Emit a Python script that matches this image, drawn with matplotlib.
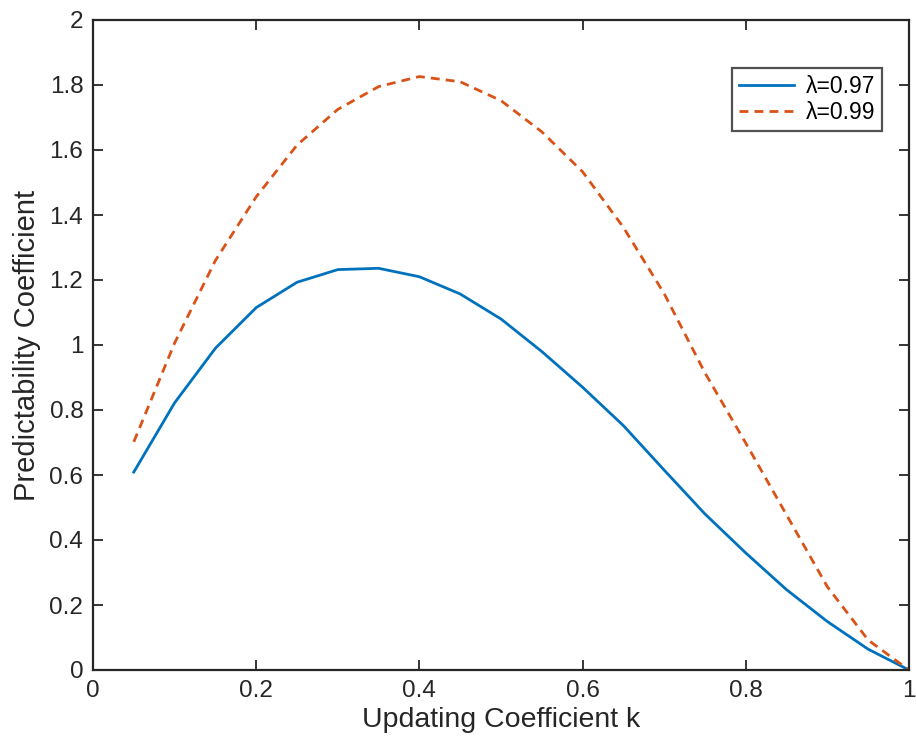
import matplotlib
matplotlib.use("Agg")
import matplotlib.pyplot as plt

k = [0.05, 0.10, 0.15, 0.20, 0.25, 0.30, 0.35, 0.40, 0.45, 0.50,
     0.55, 0.60, 0.65, 0.70, 0.75, 0.80, 0.85, 0.90, 0.95, 1.00]
pc_097 = [0.609, 0.822, 0.990, 1.115, 1.193, 1.232, 1.236, 1.210, 1.157, 1.080,
          0.980, 0.870, 0.752, 0.615, 0.480, 0.360, 0.247, 0.149, 0.064, 0.0]
pc_099 = [0.702, 1.006, 1.260, 1.456, 1.615, 1.725, 1.795, 1.826, 1.810, 1.752,
          1.656, 1.533, 1.362, 1.158, 0.914, 0.698, 0.477, 0.256, 0.092, 0.0]
labels = ["λ=0.97", "λ=0.99"]
xticks = [0, 0.2, 0.4, 0.6, 0.8, 1]
yticks = [0, 0.2, 0.4, 0.6, 0.8, 1, 1.2, 1.4, 1.6, 1.8, 2]

plt.rcParams['font.family'] = ['Liberation Sans', 'DejaVu Sans']

fig = plt.figure(figsize=(9.16, 7.47), dpi=100)
ax = fig.add_axes([93/916, 77/747, 816/916, 650/747])

ax.plot(k, pc_097, color='#0072BD', lw=2.0, label=labels[0])
ax.plot(k, pc_099, color='#D95319', lw=2.0, ls=(0, (3.2, 2.2)), label=labels[1])

ax.set_xlim(0, 1)
ax.set_ylim(0, 2)
ax.set_xticks(xticks)
ax.set_xticklabels([f"{t:g}" for t in xticks])
ax.set_yticks(yticks)
ax.set_yticklabels([f"{t:g}" for t in yticks])
ax.tick_params(direction='in', top=True, right=True, length=7, width=1.3,
               labelsize=17.5, colors='#262626', pad=7)
for s in ax.spines.values():
    s.set_linewidth(1.6)
    s.set_color('#262626')

ax.set_xlabel("Updating Coefficient k", fontsize=20.5, color='#262626', labelpad=4)
ax.set_ylabel("Predictability Coefficient", fontsize=21, color='#262626', labelpad=6)

leg = ax.legend(loc='upper right', fontsize=16.5, frameon=True, fancybox=False,
                edgecolor='#262626', handlelength=2.4, borderpad=0.3, labelspacing=0.15,
                handletextpad=0.5, borderaxespad=0)
leg.set_bbox_to_anchor((882/916, (747-68)/747), transform=fig.transFigure)
leg.get_frame().set_linewidth(1.6)

fig.savefig("out.png", dpi=100)
